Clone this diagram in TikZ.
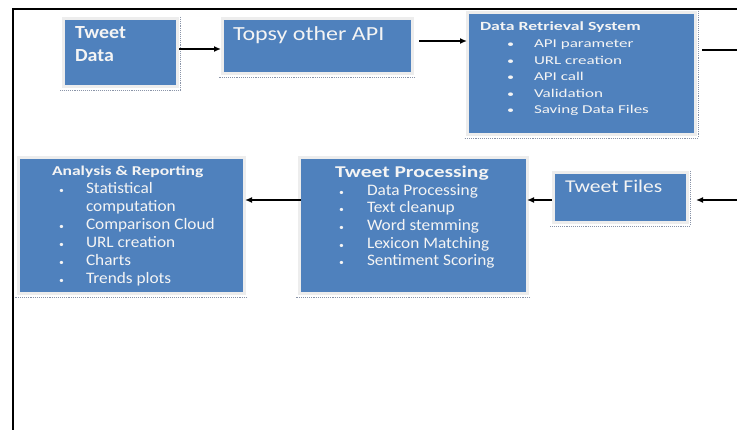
\documentclass[tikz,border=0pt]{standalone}
\usepackage{fontspec}
\setmainfont{Carlito}
\newfontfamily\fA[FakeStretch=1.08]{Carlito}
\newfontfamily\fB[FakeStretch=1.2]{Carlito}
\newfontfamily\fC[FakeStretch=1.3]{Carlito}
\newfontfamily\fD[FakeStretch=1.42]{Carlito}
\newcommand\fsz[1]{\fontsize{#1}{#1}\selectfont}
\usetikzlibrary{arrows.meta}
\definecolor{boxblue}{HTML}{4F81BD}
\definecolor{boxrim}{HTML}{EDEDED}
\definecolor{txt}{HTML}{F4F4F4}
\definecolor{shd}{HTML}{8A94A8}
\begin{document}
\begin{tikzpicture}[x=1pt,y=-1pt,
  box/.style={rectangle, fill=boxblue, draw=boxrim, line width=3pt, inner sep=0pt, outer sep=0pt},
  lbl/.style={anchor=base west, inner sep=0pt, outer sep=0pt, text=txt},
  arr/.style={line width=1.6pt, -{Latex[length=7pt,width=6pt]}},
  plain/.style={line width=1.6pt},
  shade/.style={draw=shd, densely dotted, line width=0.9pt},
  bigbul/.style={lbl, font=\fD\fsz{10}},
  smallbul/.style={lbl, font=\fA\fsz{9}},
  drsitem/.style={lbl, font=\fD\fsz{12}},
  item/.style={lbl, font=\fA\fsz{16}},
]
\useasboundingbox (0,0) rectangle (737,430);
\fill[white] (0,0) rectangle (737,430);
\draw[line width=2.5pt] (13,431) -- (13,9) -- (738,9);

% boxes
\node[box, minimum width=114pt, minimum height=68pt] (td) at (120,53) {};
\node[box, minimum width=190pt, minimum height=55pt] (tp) at (317,46.5) {};
\node[box, minimum width=228pt, minimum height=122pt] (drs) at (581,74) {};
\node[box, minimum width=226pt, minimum height=136pt] (ar) at (131,226) {};
\node[box, minimum width=228pt, minimum height=136pt] (pr) at (413,226) {};
\node[box, minimum width=134pt, minimum height=50pt] (tf) at (620,198) {};

% dotted shadow edges
\draw[shade] ([shift={(3pt,2pt)}]td.north east) -- ([shift={(3pt,-3pt)}]td.south east) -- ([shift={(-3pt,-3pt)}]td.south west);
\draw[shade] ([shift={(3pt,-3pt)}]tp.south east) -- ([shift={(-3pt,-3pt)}]tp.south west);
\draw[shade] ([shift={(3pt,2pt)}]drs.north east) -- ([shift={(3pt,-3pt)}]drs.south east) -- ([shift={(-3pt,-3pt)}]drs.south west);
\draw[shade] ([shift={(3pt,-3pt)}]ar.south east) -- ([shift={(-3pt,-3pt)}]ar.south west);
\draw[shade] ([shift={(3pt,-3pt)}]pr.south east) -- ([shift={(-3pt,-3pt)}]pr.south west);
\draw[shade] ([shift={(3pt,2pt)}]tf.north east) -- ([shift={(3pt,-3pt)}]tf.south east) -- ([shift={(-3pt,-3pt)}]tf.south west);

% connectors
\coordinate (outR) at (738,50);
\coordinate (inR) at (738,200);
\draw[arr, shorten <=2pt, shorten >=1pt] ([yshift=4pt]td.east) -- ([yshift=4pt]td.east -| tp.west);
\draw[arr, shorten <=7pt, shorten >=0pt] ([yshift=5.5pt]tp.east) -- ([yshift=5.5pt]tp.east -| drs.west);
\draw[plain] (drs.east |- outR) ++(7pt,0pt) -- (outR);
\draw[arr, shorten >=9pt] (inR) -- (inR -| tf.east);
\draw[arr, shorten <=1pt] (tf.west |- inR) -- (pr.east |- inR);
\draw[arr, shorten <=-2pt, shorten >=1pt] (pr.west |- inR) -- (ar.east |- inR);

% Tweet Data
\node[lbl, font=\fA\bfseries\fsz{18.5}] (tdA) at (75,39) {Tweet};
\node[lbl, font=\fA\bfseries\fsz{18.5}] (tdB) at (75,62) {Data};

% Topsy
\node[lbl, font=\fB\fsz{20}] (tpA) at (233,41) {Topsy other API};

% Data Retrieval System
\node[lbl, font=\fD\bfseries\fsz{12.5}] (drsT) at (480,31) {Data Retrieval System};
\node[bigbul] (db1) at (507,48) {•};
\node[bigbul] (db2) at (507,65) {•};
\node[bigbul] (db3) at (507,81) {•};
\node[bigbul] (db4) at (507,98) {•};
\node[bigbul] (db5) at (507,114) {•};
\node[drsitem] (d1) at (534,48) {API parameter};
\node[drsitem] (d2) at (534,65) {URL creation};
\node[drsitem] (d3) at (534,81) {API call};
\node[drsitem] (d4) at (534,98) {Validation};
\node[drsitem] (d5) at (534,114) {Saving Data Files};

% Analysis & Reporting
\node[lbl, font=\fC\bfseries\fsz{13.5}] (arT) at (52,176) {Analysis \& Reporting};
\node[smallbul] (ab1) at (59,194) {•};
\node[smallbul] (ab2) at (59,230) {•};
\node[smallbul] (ab3) at (59,248) {•};
\node[smallbul] (ab4) at (59,266) {•};
\node[smallbul] (ab5) at (59,284) {•};
\node[item] (a1) at (86,194) {Statistical};
\node[item] (a1b) at (86,212) {computation};
\node[item] (a2) at (86,230) {Comparison Cloud};
\node[item] (a3) at (86,248) {URL creation};
\node[item] (a4) at (86,266) {Charts};
\node[item] (a5) at (86,284) {Trends plots};

% Tweet Processing
\node[lbl, font=\fC\bfseries\fsz{16.5}] (prT) at (335,178) {Tweet Processing};
\node[smallbul] (pb1) at (339,196) {•};
\node[smallbul] (pb2) at (339,213) {•};
\node[smallbul] (pb3) at (339,231) {•};
\node[smallbul] (pb4) at (339,249) {•};
\node[smallbul] (pb5) at (339,266) {•};
\node[item] (p1) at (367,196) {Data Processing};
\node[item] (p2) at (367,213) {Text cleanup};
\node[item] (p3) at (367,231) {Word stemming};
\node[item] (p4) at (367,249) {Lexicon Matching};
\node[item] (p5) at (367,266) {Sentiment Scoring};

% Tweet Files
\node[lbl, font=\fB\fsz{18}] (tfA) at (565,193) {Tweet Files};
\end{tikzpicture}
\end{document}
